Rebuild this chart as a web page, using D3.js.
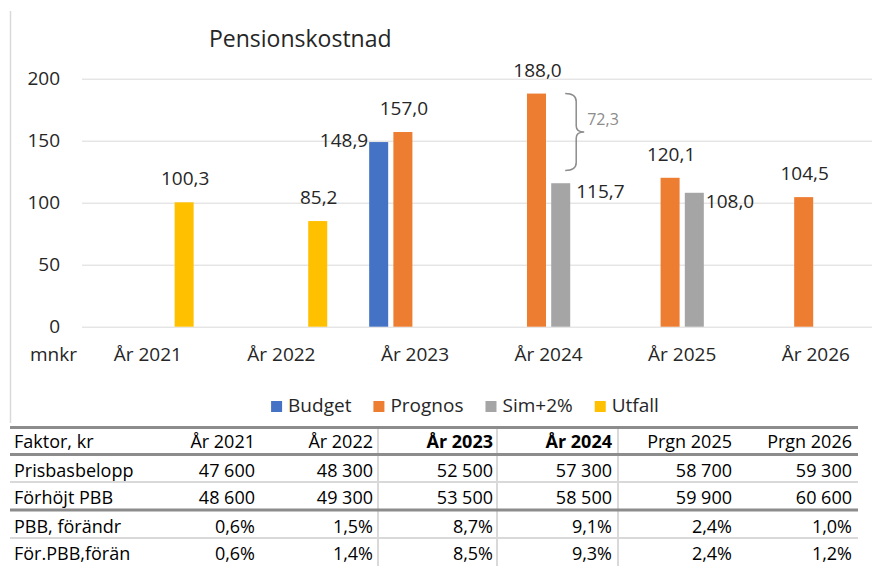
<!DOCTYPE html>
<html>
<head>
<meta charset="utf-8">
<script src="https://cdn.jsdelivr.net/npm/d3@7"></script>
<style>
  body { margin: 0; background: #fff; }
  svg { display: block; font-family: 'Open Sans', sans-serif; }
</style>
</head>
<body>
<script>
// Data
const categories = ['År 2021', 'År 2022', 'År 2023', 'År 2024', 'År 2025', 'År 2026']
const seriesNames = ['Budget', 'Prognos', 'Sim+2%', 'Utfall']
const budget = [null, null, 148.9, null, null, null]
const prognos = [null, null, 157.0, 188.0, 120.1, 104.5]
const sim = [null, null, null, 115.7, 108.0, null]
const utfall = [100.3, 85.2, null, null, null, null]
const yTicks = [0, 50, 100, 150, 200]

const tableHead = ['Faktor, kr', 'År 2021', 'År 2022', 'År 2023', 'År 2024', 'Prgn 2025', 'Prgn 2026']
const boldHead = ['År 2023', 'År 2024']
const rowNames = ['Prisbasbelopp', 'Förhöjt PBB', 'PBB, förändr', 'För.PBB,förän']
const pbb = [47600, 48300, 52500, 57300, 58700, 59300]
const pbbHigh = [48600, 49300, 53500, 58500, 59900, 60600]
const pbbChange = [0.6, 1.5, 8.7, 9.1, 2.4, 1.0]
const pbbHighChange = [0.6, 1.4, 8.5, 9.3, 2.4, 1.2]

const colors = { 'Budget': '#4472C4', 'Prognos': '#ED7D31', 'Sim+2%': '#A5A5A5', 'Utfall': '#FFC000' }
const seriesData = { 'Budget': budget, 'Prognos': prognos, 'Sim+2%': sim, 'Utfall': utfall }

const W = 872, H = 566
const locale = d3.formatLocale({ decimal: ',', thousands: '\u00a0', grouping: [3], currency: ['', ' kr'] })
const fmt1 = locale.format('.1f')
const fmtInt = locale.format(',d')

const svg = d3.select('body').append('svg')
    .attr('width', W)
    .attr('height', H)

// Scales
const x0 = d3.scaleBand()
    .domain(categories)
    .range([81, 882.6])
    .paddingInner(0.314)
    .paddingOuter(0.157)

const x1 = d3.scaleBand()
    .domain(seriesNames)
    .range([0, x0.bandwidth()])
    .paddingInner(0.215)

const y = d3.scaleLinear()
    .domain([0, 200])
    .range([326.7, 78.7])

// chart border (left edge only visible)
svg.append('line')
    .attr('x1', 10.5).attr('x2', 10.5)
    .attr('y1', 11).attr('y2', 423)
    .style('stroke', '#d9d9d9')
    .style('stroke-width', 1.5)

// Title
svg.append('text')
    .attr('x', 209).attr('y', 47)
    .style('font-size', '23px')
    .style('fill', '#262626')
    .text('Pensionskostnad')

// Y axis with grid
const yAxis = svg.append('g')
    .attr('transform', 'translate(82,0)')
    .call(d3.axisLeft(y).tickValues(yTicks).tickSize(-(W - 82)).tickPadding(22).tickFormat(d3.format('d')))
yAxis.select('.domain').remove()
yAxis.selectAll('line').style('stroke', '#d9d9d9').style('stroke-width', 1)
yAxis.selectAll('text')
    .style('font-size', '19px')
    .style('font-family', 'Open Sans')
    .style('fill', '#262626')

svg.append('text')
    .attr('x', 30).attr('y', 361)
    .style('font-size', '19px')
    .style('fill', '#262626')
    .text('mnkr')

// Category labels
svg.append('g').selectAll('text')
    .data(categories)
    .join('text')
    .attr('x', d => x0(d) + x0.bandwidth() / 2)
    .attr('y', 361)
    .attr('text-anchor', 'middle')
    .style('font-size', '19px')
    .style('fill', '#262626')
    .text(d => d)

// Bars
const bars = []
seriesNames.forEach(s => {
    seriesData[s].forEach((v, i) => {
        if (v != null) bars.push({ s, cat: categories[i], v })
    })
})

svg.append('g').selectAll('rect')
    .data(bars)
    .join('rect')
    .attr('x', d => x0(d.cat) + x1(d.s))
    .attr('y', d => y(d.v))
    .attr('width', x1.bandwidth())
    .attr('height', d => y(0) - y(d.v))
    .style('fill', d => colors[d.s])

// Bar labels; a few are moved beside the bar as in the original
function labelPos(d) {
    const left = x0(d.cat) + x1(d.s)
    const right = left + x1.bandwidth()
    const top = y(d.v)
    if (d.s === 'Budget') return { x: left - 1, y: top + 5, anchor: 'end' }
    if (d.s === 'Sim+2%' && d.cat === 'År 2024') return { x: right + 6, y: top + 15, anchor: 'start' }
    if (d.s === 'Sim+2%') return { x: right + 2, y: top + 15, anchor: 'start' }
    return { x: left + x1.bandwidth() / 2 + 1, y: top - 17, anchor: 'middle' }
}

svg.append('g').selectAll('text')
    .data(bars)
    .join('text')
    .attr('x', d => labelPos(d).x)
    .attr('y', d => labelPos(d).y)
    .attr('text-anchor', d => labelPos(d).anchor)
    .style('font-size', '19px')
    .style('fill', '#262626')
    .text(d => fmt1(d.v))

// Bracket showing difference in 2024
const bCat = 'År 2024'
const bTopVal = prognos[categories.indexOf(bCat)]
const bLowVal = sim[categories.indexOf(bCat)]
const bx = x0(bCat) + x1('Sim+2%') + x1.bandwidth() - 5
const by0 = y(bTopVal)
const by1 = y(126)
const bym = (by0 + by1) / 2
svg.append('path')
    .attr('d', `M${bx},${by0} Q${bx + 11},${by0} ${bx + 11},${by0 + 8} L${bx + 11},${bym - 6} Q${bx + 11},${bym} ${bx + 19},${bym}
        Q${bx + 11},${bym} ${bx + 11},${bym + 6} L${bx + 11},${by1 - 8} Q${bx + 11},${by1} ${bx},${by1}`)
    .style('fill', 'none')
    .style('stroke', '#8c8c8c')
    .style('stroke-width', 1.5)

svg.append('text')
    .attr('x', bx + 22).attr('y', bym - 7)
    .style('font-size', '16px')
    .style('fill', '#8c8c8c')
    .text(fmt1(bTopVal - bLowVal))

// Legend
const legend = svg.append('g')
let lx = 0
const items = []
seriesNames.forEach(s => {
    const g = legend.append('g')
    g.append('rect')
        .attr('width', 11).attr('height', 11)
        .attr('y', -11)
        .style('fill', colors[s])
    const t = g.append('text')
        .attr('x', 17)
        .style('font-size', '19px')
        .style('fill', '#262626')
        .text(s)
    items.push({ g, w: 17 + t.node().getComputedTextLength() })
})
items.forEach(it => {
    it.g.attr('transform', `translate(${lx},0)`)
    lx += it.w + 22
})
lx -= 22
legend.attr('transform', `translate(${465 - lx / 2},412)`)

// Table
const colRight = [255, 373, 493, 612, 732, 852]
const rowBase = [448, 477, 504, 533, 560]
const rows = [
    { name: rowNames[0], vals: pbb.map(fmtInt) },
    { name: rowNames[1], vals: pbbHigh.map(fmtInt) },
    { name: rowNames[2], vals: pbbChange.map(v => fmt1(v) + '%') },
    { name: rowNames[3], vals: pbbHighChange.map(v => fmt1(v) + '%') }
]

const table = svg.append('g')

// vertical separators
;[378, 497, 618].forEach(xv => {
    table.append('line')
        .attr('x1', xv).attr('x2', xv)
        .attr('y1', 428).attr('y2', H)
        .style('stroke', '#d9d9d9')
        .style('stroke-width', 2)
})

// horizontal lines
const hLines = [
    { y: 427.5, c: '#8c8c8c', w: 3 },
    { y: 454.5, c: '#8c8c8c', w: 3 },
    { y: 482, c: '#d9d9d9', w: 2 },
    { y: 510, c: '#8c8c8c', w: 3 },
    { y: 538, c: '#d9d9d9', w: 2 }
]
hLines.forEach(l => {
    table.append('line')
        .attr('x1', 10).attr('x2', 858)
        .attr('y1', l.y).attr('y2', l.y)
        .style('stroke', l.c)
        .style('stroke-width', l.w)
})

table.append('text')
    .attr('x', 14).attr('y', rowBase[0])
    .style('font-size', '18px')
    .style('fill', '#000')
    .text(tableHead[0])

table.selectAll('.head')
    .data(tableHead.slice(1))
    .join('text')
    .attr('class', 'head')
    .attr('x', (d, i) => colRight[i])
    .attr('y', rowBase[0])
    .attr('text-anchor', 'end')
    .style('font-size', '18px')
    .style('font-weight', d => boldHead.includes(d) ? 'bold' : 'normal')
    .style('fill', '#000')
    .text(d => d)

rows.forEach((r, ri) => {
    table.append('text')
        .attr('x', 14).attr('y', rowBase[ri + 1])
        .style('font-size', '18px')
        .style('fill', '#000')
        .text(r.name)
    r.vals.forEach((v, ci) => {
        table.append('text')
            .attr('x', colRight[ci]).attr('y', rowBase[ri + 1])
            .attr('text-anchor', 'end')
            .style('font-size', '18px')
            .style('fill', '#000')
            .text(v)
    })
})
</script>
</body>
</html>
